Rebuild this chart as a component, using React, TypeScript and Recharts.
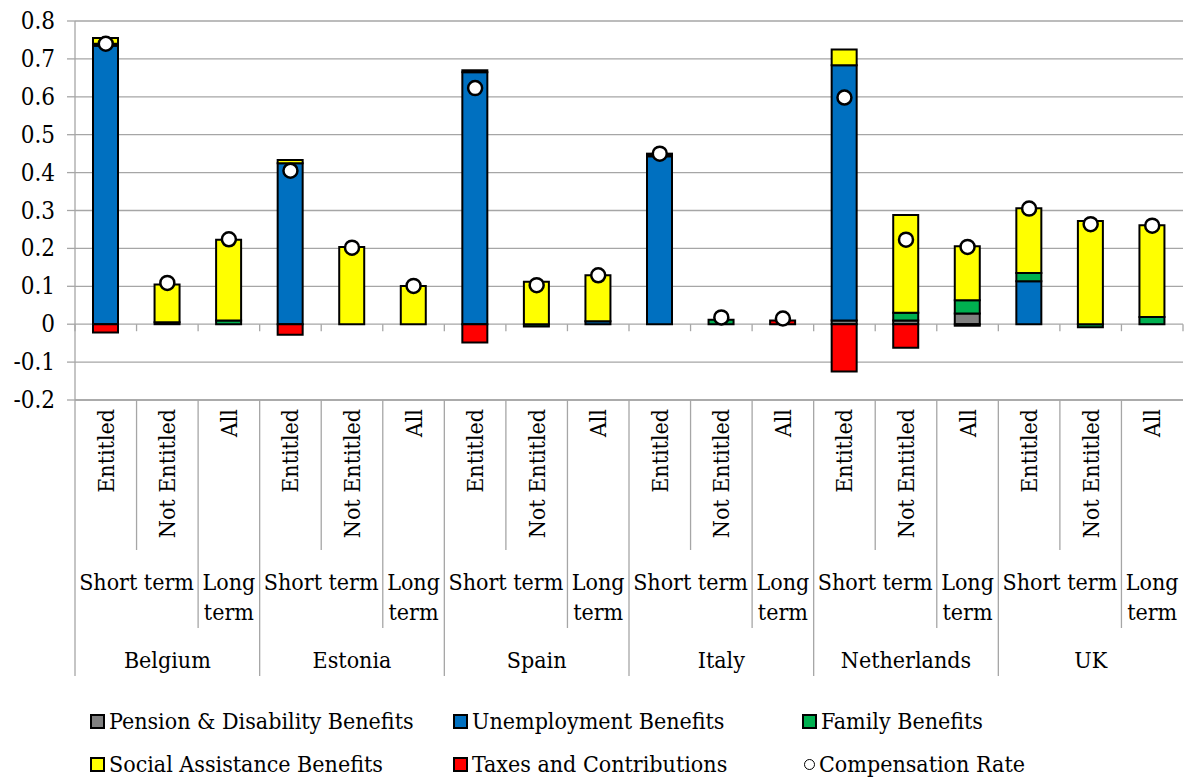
import React from 'react';
import { ComposedChart, Bar, Line, XAxis, YAxis, CartesianGrid } from 'recharts';

const countries = ['Belgium', 'Estonia', 'Spain', 'Italy', 'Netherlands', 'UK'];
const groups = ['Entitled', 'Not Entitled', 'All'];
const terms = ['Short term', 'Long term'];

// one value per bar, country by country: Entitled, Not Entitled, All
const pension = [0, 0, 0, 0, 0, 0, 0, 0, 0, 0, 0, 0, 0.01, 0.01, 0.028, 0, 0, 0];
const unemployment = [0.735, 0.005, 0, 0.425, 0, 0, 0.665, 0, 0.008, 0.443, 0, 0, 0.673, 0, 0, 0.113, 0, 0];
const family = [0.005, 0, 0.01, 0, 0, 0, 0, -0.006, 0, 0, 0.012, 0, 0, 0.02, 0.035, 0.022, -0.008, 0.019];
const social = [0.015, 0.1, 0.213, 0.008, 0.204, 0.101, 0.005, 0.112, 0.121, 0.003, 0, 0, 0.042, 0.258, 0.143, 0.171, 0.272, 0.242];
const taxes = [-0.022, 0, 0, -0.028, 0, 0, -0.048, 0, 0, 0.004, 0, 0.01, -0.125, -0.062, -0.004, 0, 0, 0];
const compensation = [0.74, 0.109, 0.224, 0.405, 0.202, 0.101, 0.623, 0.103, 0.129, 0.45, 0.018, 0.015, 0.598, 0.223, 0.204, 0.305, 0.264, 0.26];

const yTicks = [-0.2, -0.1, 0, 0.1, 0.2, 0.3, 0.4, 0.5, 0.6, 0.7, 0.8];

const data = compensation.map((c, i) => ({
  key: countries[Math.floor(i / 3)] + ' ' + groups[i % 3],
  group: groups[i % 3],
  pension: pension[i],
  unemployment: unemployment[i],
  family: family[i],
  social: social[i],
  taxes: taxes[i],
  comp: c,
}));

const W = 1192;
const H = 782;
const M = { top: 21, right: 9, left: 0, bottom: 100 };
const Y_W = 75;
const PLOT_H = 379;
const X_H = H - M.top - M.bottom - PLOT_H;
const PLOT_TOP = M.top;
const PLOT_BOTTOM = M.top + PLOT_H;
const BAND = (W - M.right - M.left - Y_W) / data.length;
const ZERO_Y = PLOT_TOP + (0.8 / 1.0) * PLOT_H;
const GRID = '#a6a6a6';
const FONT = "'DejaVu Serif Condensed', 'DejaVu Serif', serif";
const FS = 23;

const XTick = (props: any) => {
  const { x, payload } = props;
  const i = payload.index;
  const left = x - BAND / 2;
  const lineEnd = i % 3 === 0 ? 676 : i % 3 === 1 ? 550 : 628;
  return (
    <g>
      <line x1={left} x2={left} y1={PLOT_BOTTOM} y2={lineEnd} stroke={GRID} strokeWidth={1.3} />
      <line x1={left} x2={left} y1={ZERO_Y} y2={ZERO_Y + 7} stroke={GRID} strokeWidth={1.3} />
      {i === data.length - 1 && (
        <line x1={x + BAND / 2} x2={x + BAND / 2} y1={ZERO_Y} y2={ZERO_Y + 7} stroke={GRID} strokeWidth={1.3} />
      )}
      <text
        x={x}
        y={409}
        transform={`rotate(-90 ${x} 409)`}
        textAnchor="end"
        dominantBaseline="central"
        fontSize={FS}
        style={{ fontFamily: FONT }}
        fill="#000"
      >
        {payload.value}
      </text>
      {i % 3 === 0 && (
        <text x={x + BAND / 2} y={590} textAnchor="middle" fontSize={FS} style={{ fontFamily: FONT }} fill="#000">
          {terms[0]}
        </text>
      )}
      {i % 3 === 2 && (
        <text x={x} y={590} textAnchor="middle" fontSize={FS} style={{ fontFamily: FONT }} fill="#000">
          <tspan x={x}>{terms[1].split(' ')[0]}</tspan>
          <tspan x={x} dy={30}>{terms[1].split(' ')[1]}</tspan>
        </text>
      )}
      {i % 3 === 1 && (
        <text x={x} y={668} textAnchor="middle" fontSize={FS} style={{ fontFamily: FONT }} fill="#000">
          {countries[Math.floor(i / 3)]}
        </text>
      )}
    </g>
  );
};

const YTick = (props: any) => {
  const { x, y, payload } = props;
  const v = payload.value;
  return (
    <text x={x} y={y} textAnchor="end" dominantBaseline="central" fontSize={FS + 1} style={{ fontFamily: FONT }} fill="#000">
      {v === 0 ? '0' : v.toFixed(1)}
    </text>
  );
};

const legendItems = [
  { name: 'Pension & Disability Benefits', color: '#808080', left: 90, top: 707 },
  { name: 'Unemployment Benefits', color: '#0070C0', left: 453, top: 707 },
  { name: 'Family Benefits', color: '#00B050', left: 802, top: 707 },
  { name: 'Social Assistance Benefits', color: '#FFFF00', left: 90, top: 750 },
  { name: 'Taxes and Contributions', color: '#FF0000', left: 453, top: 750 },
  { name: 'Compensation Rate', color: 'circle', left: 802, top: 750 },
];

const barStroke = { stroke: '#000', strokeWidth: 2 };

export default function App() {
  return (
    <div style={{ position: 'relative', width: W, height: H, fontFamily: FONT, background: '#fff' }}>
      <style>{`body{margin:0}`}</style>
      <ComposedChart width={W} height={H} data={data} margin={M} stackOffset="sign" barSize={25}>
        <CartesianGrid vertical={false} stroke={GRID} strokeWidth={1.3} />
        <XAxis
          dataKey="group"
          interval={0}
          height={X_H}
          tickLine={false}
          axisLine={{ stroke: GRID, strokeWidth: 1.3 }}
          tick={<XTick />}
        />
        <YAxis
          width={Y_W}
          domain={[-0.2, 0.8]}
          ticks={yTicks}
          interval={0}
          tickSize={8}
          tickMargin={12}
          tickLine={{ stroke: GRID, strokeWidth: 1.3 }}
          axisLine={{ stroke: GRID, strokeWidth: 1.3 }}
          tick={<YTick />}
        />
        <Bar dataKey="pension" stackId="a" fill="#808080" {...barStroke} isAnimationActive={false} />
        <Bar dataKey="unemployment" stackId="a" fill="#0070C0" {...barStroke} isAnimationActive={false} />
        <Bar dataKey="family" stackId="a" fill="#00B050" {...barStroke} isAnimationActive={false} />
        <Bar dataKey="social" stackId="a" fill="#FFFF00" {...barStroke} isAnimationActive={false} />
        <Bar dataKey="taxes" stackId="a" fill="#FF0000" {...barStroke} isAnimationActive={false} />
        <Line
          dataKey="comp"
          stroke="none"
          dot={{ r: 7, fill: '#fff', stroke: '#000', strokeWidth: 2.5 }}
          activeDot={false}
          isAnimationActive={false}
        />
      </ComposedChart>
      {legendItems.map((it) => (
        <div
          key={it.name}
          style={{ position: 'absolute', left: it.left, top: it.top, display: 'flex', alignItems: 'center', fontSize: FS, lineHeight: '28px', color: '#000' }}
        >
          {it.color === 'circle' ? (
            <span style={{ width: 9, height: 9, borderRadius: '50%', border: '1.5px solid #000', background: '#fff', marginRight: 4, marginLeft: 2 }} />
          ) : (
            <span style={{ width: 11, height: 11, border: '2px solid #000', background: it.color, marginRight: 4 }} />
          )}
          {it.name}
        </div>
      ))}
    </div>
  );
}
